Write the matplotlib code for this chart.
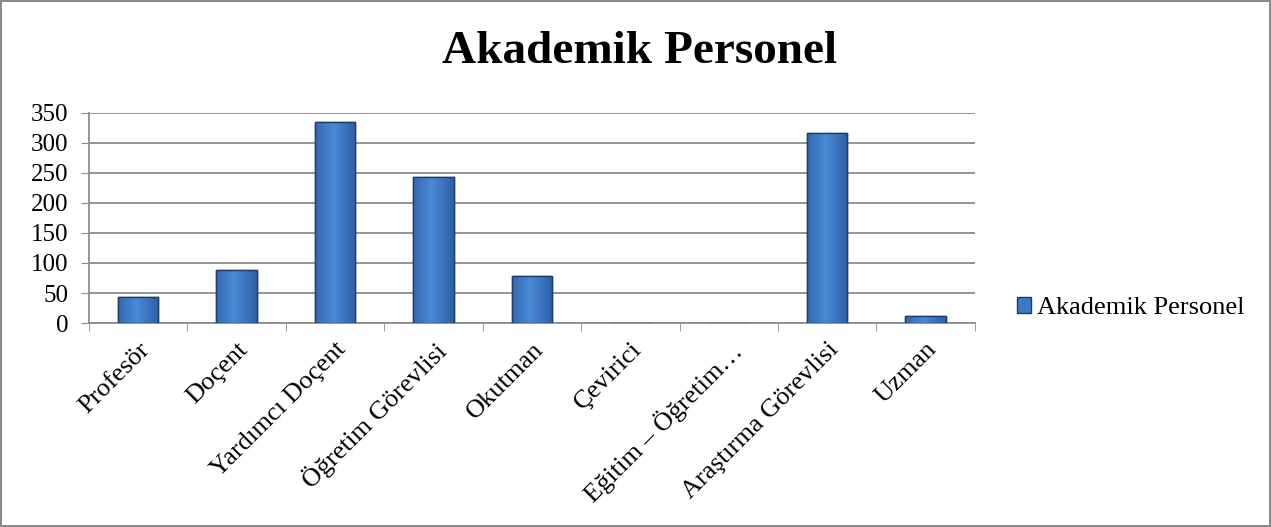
import matplotlib.pyplot as plt
import numpy as np
from matplotlib.colors import LinearSegmentedColormap

# Veriler
kategoriler = ['Profesör', 'Doçent', 'Yardımcı Doçent', 'Öğretim Görevlisi', 'Okutman',
               'Çevirici', 'Eğitim – Öğretim…', 'Araştırma Görevlisi', 'Uzman']
degerler = [43, 88, 334, 243, 79, 0, 0, 317, 12]
seri_adi = 'Akademik Personel'
y_ticks = [0, 50, 100, 150, 200, 250, 300, 350]

plt.rcParams['font.family'] = ['Liberation Serif', 'DejaVu Serif']

fig = plt.figure(figsize=(12.71, 5.27), dpi=100)
fig.patch.set_edgecolor('#8a8a8a')
fig.patch.set_linewidth(1.5)
ax = fig.add_axes([0.070, 0.387, 0.697, 0.399])

x = np.arange(len(kategoriler))
bars = ax.bar(x, degerler, width=0.41, color='#3d78c4', edgecolor='#1f3d6b',
              linewidth=1.0, zorder=3, label=seri_adi)

# Hafif gradyan efekti
grad = np.linspace(0, 1, 64)
grad = np.vstack([1 - np.abs(grad - 0.45) * 1.6] * 2)
cmap = LinearSegmentedColormap.from_list('b', ['#2a5a9c', '#4a8ad8'])
for b in bars:
    h = b.get_height()
    if h <= 0:
        continue
    x0, w = b.get_x(), b.get_width()
    im = ax.imshow(grad, cmap=cmap, aspect='auto', extent=[x0, x0 + w, 0, h],
                   zorder=3.5, vmin=0, vmax=1)
    im.set_clip_path(b)
    ax.bar(x0 + w / 2, h, width=w, fill=False, edgecolor='#1f3d6b', linewidth=1.0, zorder=4)

ax.set_xlim(-0.5, len(kategoriler) - 0.5)
ax.set_ylim(0, 350)
ax.set_yticks(y_ticks)
ax.yaxis.grid(True, color='#8c8c8c', linewidth=1.3, zorder=0)
ax.set_axisbelow(True)

ax.set_xticks(x)
ax.set_xticklabels(kategoriler, rotation=45, ha='right', rotation_mode='anchor', fontsize=19)
ax.set_xticks(np.arange(-0.5, len(kategoriler) + 0.5, 1), minor=True)
ax.tick_params(axis='x', which='major', length=0, pad=11)
ax.tick_params(axis='x', which='minor', length=6, color='#8c8c8c', direction='out')
ax.tick_params(axis='y', length=5.8, color='#8c8c8c', labelsize=18, pad=9)

for s in ['top', 'right']:
    ax.spines[s].set_visible(False)
for s in ['left', 'bottom']:
    ax.spines[s].set_color('#8c8c8c')
    ax.spines[s].set_linewidth(1.3)

fig.text(0.503, 0.901, 'Akademik Personel', ha='center', va='center',
         fontsize=34, fontweight='bold')

fig.legend(handles=[bars], labels=[seri_adi], loc='center left',
           bbox_to_anchor=(0.8, 0.415), frameon=False, fontsize=19,
           handlelength=0.55, handleheight=0.55, handletextpad=0.2,
           borderpad=0, borderaxespad=0)

fig.savefig('out.png', dpi=100)
